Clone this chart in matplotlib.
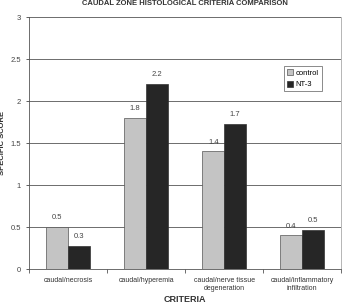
import matplotlib
matplotlib.use('Agg')
from matplotlib import pyplot as plt
import numpy as np

plt.rcParams['font.family'] = ['Liberation Sans', 'DejaVu Sans']

categories = ["caudal/necrosis", "caudal/hyperemia", "caudal/nerve tissue\ndegeneration",
              "caudal/inflammatory\ninfiltration"]
control = [0.5, 1.8, 1.4, 0.4]
nt3 = [0.27, 2.2, 1.73, 0.47]
control_labels = ["0.5", "1.8", "1.4", "0.4"]
nt3_labels = ["0.3", "2.2", "1.7", "0.5"]

fig = plt.figure(figsize=(3.43, 3.05), dpi=100)
ax = fig.add_axes([0.085, 0.118, 0.91, 0.826])

x = np.arange(len(categories))
w = 0.28
b1 = ax.bar(x - w / 2, control, w, color="#c4c4c4", edgecolor="#555555", linewidth=0.5,
            label="control", zorder=3)
b2 = ax.bar(x + w / 2, nt3, w, color="#262626", edgecolor="#333333", linewidth=0.5,
            label="NT-3", zorder=3)

for rect, lab in zip(b1, control_labels):
    ax.text(rect.get_x() + rect.get_width() / 2, rect.get_height() + 0.07, lab,
            ha="center", va="bottom", fontsize=5.5, color="#444444")
for rect, lab in zip(b2, nt3_labels):
    ax.text(rect.get_x() + rect.get_width() / 2, rect.get_height() + 0.07, lab,
            ha="center", va="bottom", fontsize=5.5, color="#444444")

ax.set_xlim(-0.5, len(categories) - 0.5)
ax.set_ylim(0, 3)
ax.set_yticks(np.arange(0, 3.01, 0.5))
ax.set_yticklabels(["0", "0.5", "1", "1.5", "2", "2.5", "3"])
ax.yaxis.grid(True, color="#555555", linewidth=0.6, zorder=0)

ax.set_xticks(x)
ax.set_xticklabels(categories, fontsize=5, color="#333333")
ax.set_xticks(np.arange(-0.5, len(categories), 1), minor=True)
ax.tick_params(axis="x", which="major", length=0, pad=6)
ax.tick_params(axis="x", which="minor", length=3, width=0.6, color="#555555")
ax.tick_params(axis="y", labelsize=5.5, length=2.5, width=0.6, colors="#444444")

ax.spines["top"].set_visible(False)
ax.spines["right"].set_color("#aaaaaa")
ax.spines["right"].set_linewidth(0.6)
ax.spines["left"].set_color("#555555")
ax.spines["bottom"].set_color("#555555")
ax.spines["left"].set_linewidth(0.6)
ax.spines["bottom"].set_linewidth(0.6)

ax.set_ylabel("SPECIFIC SCORE", fontsize=5.5, fontweight="bold", color="#333333")
ax.yaxis.set_label_coords(-0.074, 0.5)
ax.set_xlabel("CRITERIA", fontsize=6.5, fontweight="bold", color="#333333", labelpad=2)
ax.set_title("CAUDAL ZONE HISTOLOGICAL CRITERIA COMPARISON", fontsize=5.5,
             fontweight="bold", color="#333333", pad=9)

leg = ax.legend(loc="upper right", bbox_to_anchor=(0.95, 0.82), fontsize=5.5,
                frameon=True, fancybox=False, edgecolor="#555555",
                handlelength=0.8, handleheight=0.8, handletextpad=0.3,
                borderpad=0.4, labelspacing=0.5)
leg.get_frame().set_linewidth(0.6)

fig.savefig("out.png", dpi=100)
